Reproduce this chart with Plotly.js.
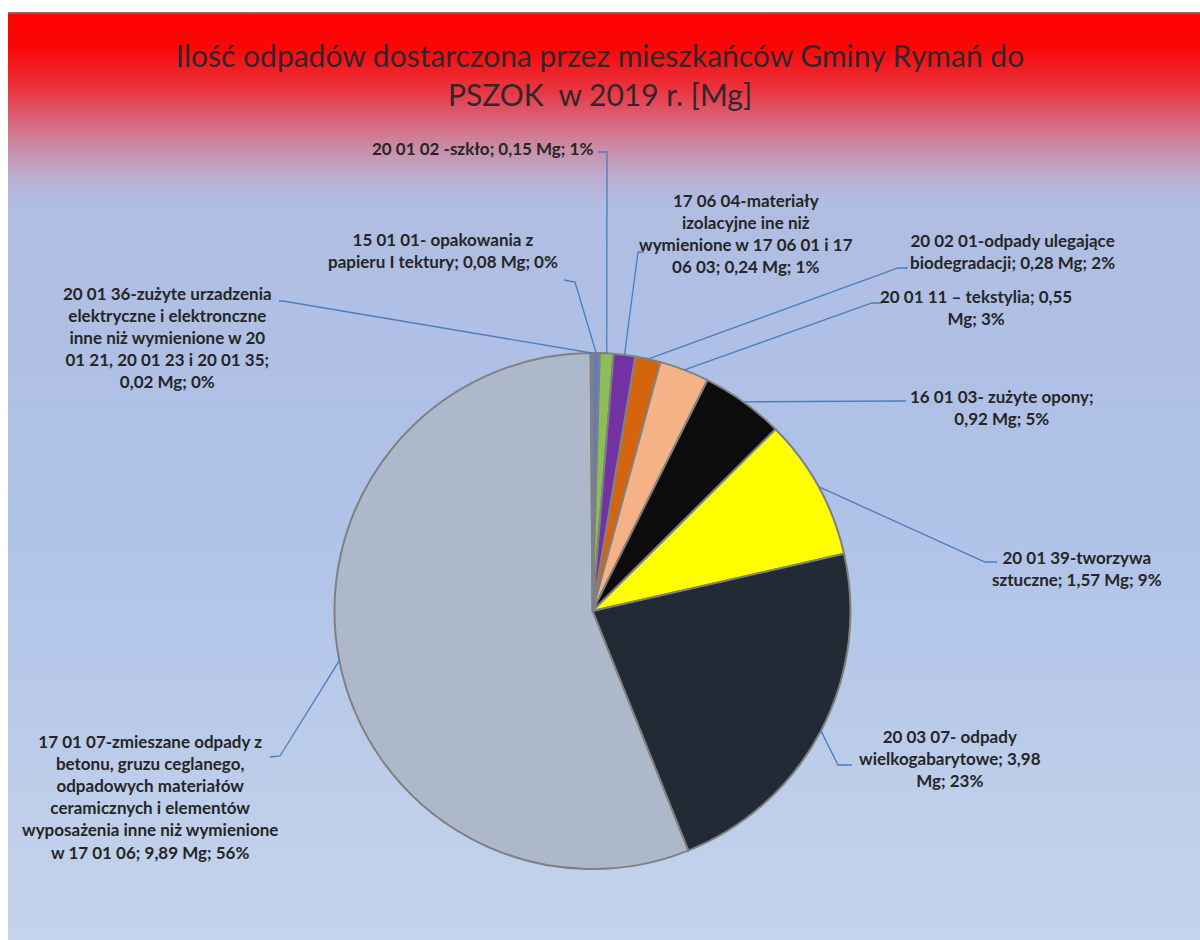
<!DOCTYPE html>
<html>
<head>
<meta charset="utf-8">
<script src="https://cdn.plot.ly/plotly-3.0.1.min.js"></script>
<style>
  html, body { margin:0; padding:0; background:#fff; }
  #wrap { position:relative; width:1200px; height:940px; background:#fff; overflow:hidden; }
  #bg { position:absolute; left:8px; top:12px; width:1192px; height:928px;
        border-top:2px solid #8a6565; box-sizing:border-box;
        background: linear-gradient(to bottom,
          #ff0000 0px, #f90808 35px, #ea3440 75px, #d96278 105px, #c98ea8 135px,
          #bbaccd 162px, #b0bde2 188px, #afc2e8 500px, #c5d4ec 928px); }
  #chart { position:absolute; left:0; top:0; width:1200px; height:940px; }
</style>
</head>
<body>
<div id="wrap">
  <div id="bg"></div>
  <div id="chart"></div>
</div>
<script>
// ---- data ----
const categories = ['15 01 01', '20 01 02', '17 06 04', '20 02 01', '20 01 11',
                    '16 01 03', '20 01 39', '20 03 07', '17 01 07', '20 01 36'];
const values = [0.08, 0.15, 0.24, 0.28, 0.55, 0.92, 1.57, 3.98, 9.89, 0.02];
const labelTexts = [
  '15 01 01- opakowania z<br>papieru I tektury; 0,08 Mg; 0%',
  '20 01 02 -szkło; 0,15 Mg; 1%',
  '17 06 04-materiały<br>izolacyjne ine niż<br>wymienione w 17 06 01 i 17<br>06 03; 0,24 Mg; 1%',
  '20 02 01-odpady ulegające<br>biodegradacji; 0,28 Mg; 2%',
  '20 01 11 – tekstylia; 0,55<br>Mg; 3%',
  '16 01 03- zużyte opony;<br>0,92 Mg; 5%',
  '20 01 39-tworzywa<br>sztuczne; 1,57 Mg; 9%',
  '20 03 07- odpady<br>wielkogabarytowe; 3,98<br>Mg; 23%',
  '17 01 07-zmieszane odpady z<br>betonu, gruzu ceglanego,<br>odpadowych materiałów<br>ceramicznych i elementów<br>wyposażenia inne niż wymienione<br>w 17 01 06; 9,89 Mg; 56%',
  '20 01 36-zużyte urzadzenia<br>elektryczne i elektronczne<br>inne niż wymienione w 20<br>01 21, 20 01 23 i 20 01 35;<br>0,02 Mg; 0%'
];
const titleText = 'Ilość odpadów dostarczona przez mieszkańców Gminy Rymań do<br>PSZOK\u00a0 w 2019 r. [Mg]';

// ---- style ----
const sliceColors = ['#6478c0', '#8bbd5a', '#7232a2', '#d5640f', '#f6b287',
                     '#0c0c0c', '#ffff00', '#222a35', '#adb8ca', '#4472c4'];
const W = 1200, H = 940;
const CX = 592.5, CY = 611, R = 258;   // pie placement in pixels
// label layout: [centerX, centerY, startX, startY, elbowX, elbowY]
const labelLayout = [
  [443, 250, 564, 280, 575, 282],
  [482, 148, 598, 152, 607, 152],
  [746, 234, 644, 252, 638, 252],
  [1012, 251, 908, 268, 898, 268],
  [976, 307, 882, 303, 872, 303],
  [1002, 408, 906, 401, 900, 401],
  [1077, 568, 997, 562, 985, 562],
  [950, 758, 852, 765, 838, 765],
  [150, 797, 270, 757, 280, 756],
  [167, 337, 279, 301, 283, 301]
];

const px = x => x / W;
const py = y => 1 - y / H;

const total = values.reduce((a, b) => a + b, 0);
let cum = 0;
const shapes = [];
const annotations = [];
values.forEach((v, i) => {
  const mid = (cum + v / 2) / total;  // fraction, clockwise from 12 o'clock
  cum += v;
  const ang = mid * 2 * Math.PI;
  const ex = CX + R * Math.sin(ang);
  const ey = CY - R * Math.cos(ang);
  const L = labelLayout[i];
  shapes.push({
    type: 'path', xref: 'paper', yref: 'paper',
    path: `M ${px(L[2])} ${py(L[3])} L ${px(L[4])} ${py(L[5])} L ${px(ex)} ${py(ey)}`,
    line: { color: '#4a7ebb', width: 1.3 }
  });
  annotations.push({
    xref: 'paper', yref: 'paper', x: px(L[0]), y: py(L[1]),
    xanchor: 'center', yanchor: 'middle', align: 'center',
    showarrow: false, text: labelTexts[i],
    font: { family: 'Lato, sans-serif', size: 17, color: '#262626', weight: 'bold' }
  });
});

const trace = {
  type: 'pie',
  labels: categories,
  values: values,
  sort: false,
  direction: 'clockwise',
  rotation: 0,
  textinfo: 'none',
  hoverinfo: 'label+value+percent',
  marker: { colors: sliceColors, line: { color: '#808080', width: 2 } },
  domain: { x: [px(CX - R), px(CX + R)], y: [py(CY + R), py(CY - R)] },
  showlegend: false
};

const layout = {
  width: W, height: H, autosize: false,
  margin: { l: 0, r: 0, t: 0, b: 0 },
  paper_bgcolor: 'rgba(0,0,0,0)',
  plot_bgcolor: 'rgba(0,0,0,0)',
  title: {
    text: titleText,
    font: { family: 'Lato, sans-serif', size: 30, color: '#33262a', weight: 400 },
    x: 0.5, xanchor: 'center', xref: 'paper',
    y: 1 - 67 / H, yref: 'container', yanchor: 'middle'
  },
  shapes: shapes,
  annotations: annotations
};

Plotly.newPlot('chart', [trace], layout, { displayModeBar: false, staticPlot: true });
</script>
</body>
</html>
